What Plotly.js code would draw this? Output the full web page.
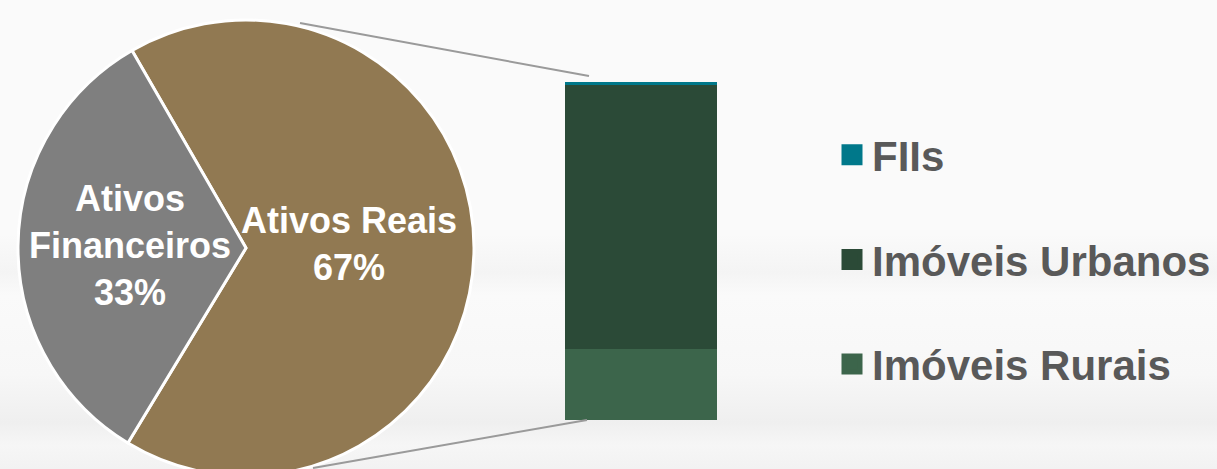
<!DOCTYPE html>
<html>
<head>
<meta charset="utf-8">
<script src="https://cdn.plot.ly/plotly-3.0.1.min.js"></script>
<style>
  html, body { margin: 0; padding: 0; width: 1217px; height: 469px; overflow: hidden;
    background: linear-gradient(180deg, #fafafa 0%, #fafafa 50%, #f4f4f4 58%, #fafafa 63%, #f7f7f7 80%, #efefef 90%, #f6f6f6 95%, #f2f2f2 100%); }
  #chart { width: 1217px; height: 500px; }
</style>
</head>
<body>
<div id="chart"></div>
<script>
// Pie: composition of assets
const pieLabels = ['Ativos Reais', 'Ativos Financeiros'];
const pieValues = [67, 33];
const pieColors = ['#917952', '#7f7f7f'];

// Stacked bar: breakdown of "Ativos Reais" (share of bar, %)
const barCategory = ['Ativos Reais'];
const barSeries = ['Imóveis Rurais', 'Imóveis Urbanos', 'FIIs'];
const barValues = [21, 78, 1];
const barColors = ['#3c654b', '#2b4a37', '#00788a'];
const legendOrder = ['FIIs', 'Imóveis Urbanos', 'Imóveis Rurais'];

const W = 1217, H = 500;
const px = x => x / W;
const py = y => (H - y) / H;

const font = 'Arial, "Liberation Sans", sans-serif';

const traces = [];
traces.push({
  type: 'pie',
  labels: pieLabels,
  values: pieValues,
  marker: { colors: pieColors, line: { color: '#ffffff', width: 3 } },
  sort: false,
  direction: 'clockwise',
  rotation: -30,
  textinfo: 'none',
  hoverinfo: 'label+percent',
  showlegend: false,
  domain: { x: [px(18), px(474)], y: [py(476), py(20)] }
});

barSeries.forEach((name, i) => {
  traces.push({
    type: 'bar',
    x: barCategory,
    y: [barValues[i]],
    name: name,
    marker: { color: barColors[i] },
    showlegend: false,
    legendgroup: name,
    xaxis: 'x', yaxis: 'y',
    hoverinfo: 'name+y'
  });
});

// legend entries (square markers), ordered top to bottom
legendOrder.forEach(name => {
  const i = barSeries.indexOf(name);
  traces.push({
    type: 'scatter',
    mode: 'markers',
    x: [null], y: [null],
    name: name,
    legendgroup: name,
    marker: { symbol: 'square', size: 16, color: barColors[i], line: { color: barColors[i], width: 5 } },
    xaxis: 'x', yaxis: 'y',
    hoverinfo: 'skip'
  });
});

// pie labels built from the data
const pieAnn = [
  { idx: 1, text: 'Ativos<br>Financeiros<br>' + pieValues[1] + '%', x: 130, y: 245 },
  { idx: 0, text: 'Ativos Reais<br>' + pieValues[0] + '%', x: 349, y: 244 }
].map(a => ({
  xref: 'paper', yref: 'paper', x: px(a.x), y: py(a.y),
  xanchor: 'center', yanchor: 'middle', showarrow: false,
  text: a.text, align: 'center',
  font: { family: font, size: 36, color: '#ffffff', weight: 'bold' }
}));

const layout = {
  width: W, height: H,
  margin: { l: 0, r: 0, t: 0, b: 0 },
  paper_bgcolor: 'rgba(0,0,0,0)',
  plot_bgcolor: 'rgba(0,0,0,0)',
  barmode: 'stack',
  bargap: 0,
  xaxis: { domain: [px(565), px(717)], range: [-0.5, 0.5], type: 'category',
           visible: false, fixedrange: true },
  yaxis: { domain: [py(420), py(82)], range: [0, 100], visible: false, fixedrange: true },
  showlegend: true,
  legend: {
    x: px(832), y: py(121), xanchor: 'left', yanchor: 'top',
    traceorder: 'grouped', tracegroupgap: 47,
    bgcolor: 'rgba(0,0,0,0)',
    font: { family: font, size: 42, color: '#595959', weight: 'bold' },
    itemclick: false, itemdoubleclick: false
  },
  annotations: pieAnn,
  shapes: [
    { type: 'line', xref: 'paper', yref: 'paper', x0: px(300), y0: py(23), x1: px(589), y1: py(76),
      line: { color: '#9a9a9a', width: 2 } },
    { type: 'line', xref: 'paper', yref: 'paper', x0: px(313), y0: py(468), x1: px(587), y1: py(420),
      line: { color: '#9a9a9a', width: 2 } }
  ]
};

Plotly.newPlot('chart', traces, layout, { displayModeBar: false, staticPlot: true });
</script>
</body>
</html>
